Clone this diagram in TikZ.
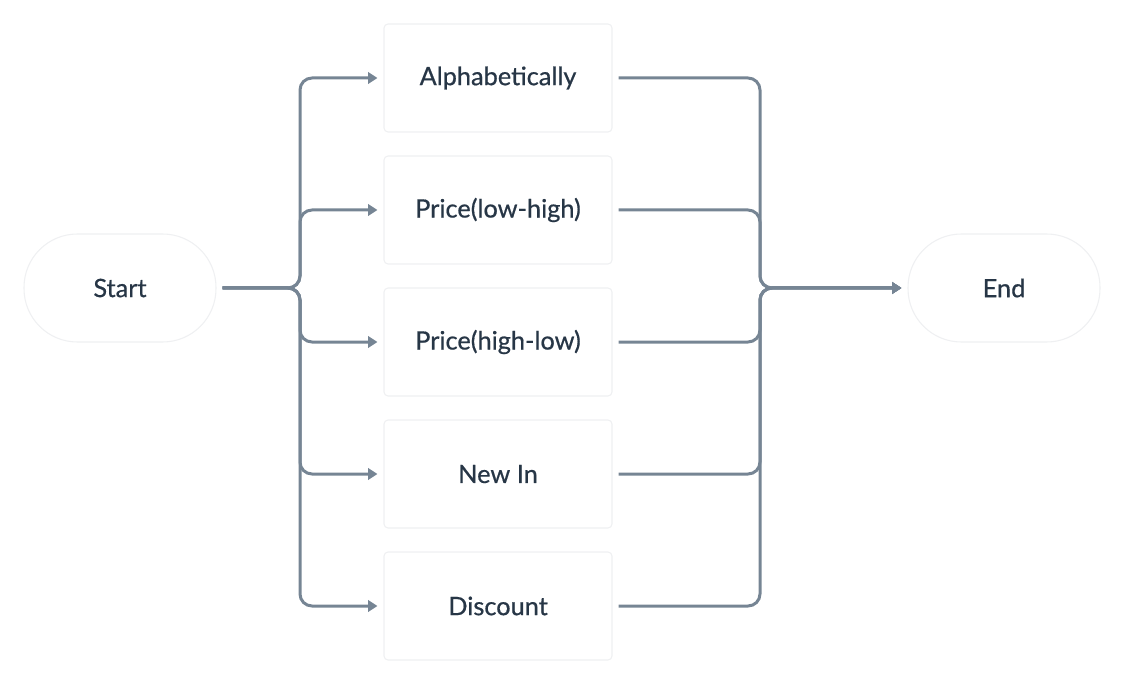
\documentclass[tikz,border=0pt]{standalone}
\usepackage{fontspec}
\setmainfont{Lato}
\newfontfamily\medfont{Lato}[FakeBold=0.6]
\usetikzlibrary{arrows.meta}
\definecolor{conn}{HTML}{768594}
\definecolor{txt}{HTML}{273646}
\definecolor{edge}{HTML}{EFF0F2}
\begin{document}
\begin{tikzpicture}[x=0.75pt,y=-0.75pt,
  box/.style={draw=edge,line width=0.8pt,fill=white,rounded corners=3pt,
    minimum width=171pt,minimum height=81pt,inner sep=0pt,
    font=\medfont\fontsize{19}{23}\selectfont,text=txt},
  pill/.style={box,minimum width=144pt,rounded corners=40pt},
  conn/.style={draw=conn,line width=2.25pt,rounded corners=9pt,
    -{Triangle[length=7pt,width=8.5pt]},shorten >=4.5pt,shorten <=4.5pt},
  ]
\useasboundingbox (0,0) rectangle (1124,684);
\node[pill] (start) at (120,288) {Start};
\node[pill] (end) at (1004,288) {End};
\node[box] (a1) at (498,78) {Alphabetically};
\node[box] (a2) at (498,210) {Price(low-high)};
\node[box] (a3) at (498,342) {Price(high-low)};
\node[box] (a4) at (498,474) {New In};
\node[box] (a5) at (498,606) {Discount};
\coordinate (sj) at (300,288);
\coordinate (ej) at (760,288);
\foreach \n in {a1,a2,a3,a4,a5}{
  \draw[conn] (start.east) -- (sj) |- (\n.west);
  \draw[conn] (\n.east) -| (ej) -- (end.west);
}
\end{tikzpicture}
\end{document}
